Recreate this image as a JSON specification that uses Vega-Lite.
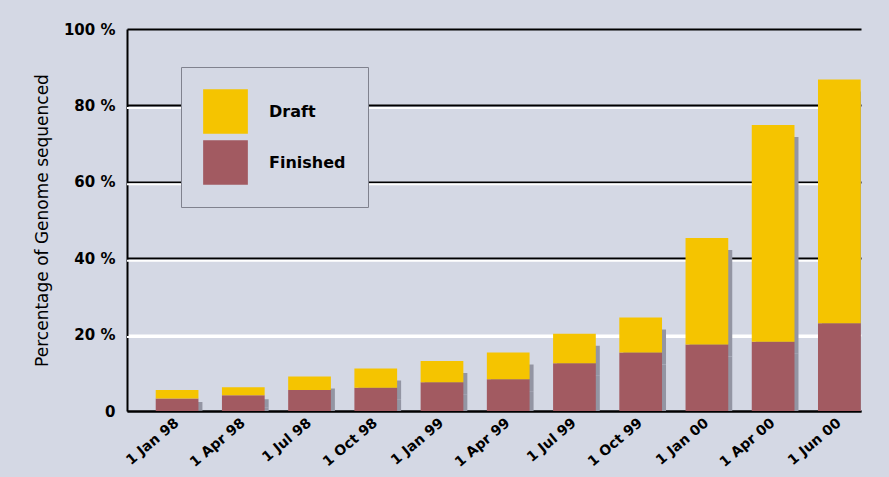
{
  "$schema": "https://vega.github.io/schema/vega-lite/v6.json",
  "width": 734,
  "height": 382,
  "autosize": "none",
  "padding": {"left": 127, "top": 29, "right": 28, "bottom": 66},
  "background": "#d4d8e4",
  "config": {
    "view": {"stroke": null},
    "font": "DejaVu Sans",
    "axisX": {"labelAngle": -40, "labelAlign": "right", "labelBaseline": "middle",
              "labelFontSize": 14, "labelFontWeight": "bold", "labelColor": "black", "ticks": false,
              "domainColor": "black", "domainWidth": 2, "labelPadding": 10, "grid": false},
    "axisY": {"titleFontSize": 17, "titleFontWeight": "normal", "titleColor": "black", "titlePadding": 12,
              "labelFontSize": 15, "labelFontWeight": "bold", "labelColor": "black", "labelPadding": 12,
              "ticks": false, "domainColor": "black", "domainWidth": 2,
              "grid": true, "gridWidth": 2, "gridOpacity": 1, "gridColor": "black"}
  },
  "datasets": {
    "grid": [{"level": 20}, {"level": 40}, {"level": 60}, {"level": 80}],
    "progress": [
      {"date": "1 Jan 98", "series": "Finished", "value": 3.3},
      {"date": "1 Jan 98", "series": "Draft", "value": 2.2},
      {"date": "1 Apr 98", "series": "Finished", "value": 4.1},
      {"date": "1 Apr 98", "series": "Draft", "value": 2.1},
      {"date": "1 Jul 98", "series": "Finished", "value": 5.5},
      {"date": "1 Jul 98", "series": "Draft", "value": 3.5},
      {"date": "1 Oct 98", "series": "Finished", "value": 6.1},
      {"date": "1 Oct 98", "series": "Draft", "value": 5.0},
      {"date": "1 Jan 99", "series": "Finished", "value": 7.5},
      {"date": "1 Jan 99", "series": "Draft", "value": 5.6},
      {"date": "1 Apr 99", "series": "Finished", "value": 8.3},
      {"date": "1 Apr 99", "series": "Draft", "value": 7.0},
      {"date": "1 Jul 99", "series": "Finished", "value": 12.5},
      {"date": "1 Jul 99", "series": "Draft", "value": 7.7},
      {"date": "1 Oct 99", "series": "Finished", "value": 15.3},
      {"date": "1 Oct 99", "series": "Draft", "value": 9.2},
      {"date": "1 Jan 00", "series": "Finished", "value": 17.4},
      {"date": "1 Jan 00", "series": "Draft", "value": 27.9},
      {"date": "1 Apr 00", "series": "Finished", "value": 18.1},
      {"date": "1 Apr 00", "series": "Draft", "value": 56.8},
      {"date": "1 Jun 00", "series": "Finished", "value": 23.0},
      {"date": "1 Jun 00", "series": "Draft", "value": 63.8}
    ]
  },
  "layer": [
    {
      "data": {"name": "grid"},
      "mark": {"type": "rule", "color": "white", "strokeWidth": 2, "yOffset": 2.5},
      "encoding": {
        "y": {"field": "level", "type": "quantitative", "scale": {"domain": [0, 100], "nice": false},
              "axis": {"title": "Percentage of Genome sequenced"}}
      }
    },
    {
      "data": {"name": "progress"},
      "mark": {"type": "bar", "color": "#9395a3", "xOffset": 4, "yOffset": 12, "clip": true},
      "encoding": {
        "x": {"field": "date", "type": "nominal", "sort": null, "axis": {"title": null},
              "scale": {"paddingInner": 0.355, "paddingOuter": 0.219, "align": 0.99}},
        "y": {"field": "value", "type": "quantitative", "stack": "zero",
              "axis": {"title": "Percentage of Genome sequenced"},
              "scale": {"domain": [0, 100], "nice": false}},
        "order": {"field": "series", "sort": "descending"}
      }
    },
    {
      "data": {"name": "progress"},
      "mark": {"type": "bar", "strokeWidth": 0},
      "encoding": {
        "x": {"field": "date", "type": "nominal", "sort": null,
              "scale": {"paddingInner": 0.355, "paddingOuter": 0.219, "align": 0.99},
              "axis": {"title": null}},
        "y": {"field": "value", "type": "quantitative", "stack": "zero",
              "scale": {"domain": [0, 100], "nice": false},
              "axis": {"values": [0, 20, 40, 60, 80, 100],
                       "labelExpr": "datum.value == 0 ? '0' : datum.value + ' %'",
                       "title": "Percentage of Genome sequenced",
                       "gridColor": {"condition": {"test": "datum.value == 20", "value": "white"}, "value": "black"}}},
        "color": {"field": "series", "type": "nominal",
                  "scale": {"domain": ["Draft", "Finished"], "range": ["#f5c400", "#a25a61"]},
                  "legend": {"orient": "none", "legendX": 54, "legendY": 38, "title": null,
                             "symbolType": "square", "symbolSize": 2000, "symbolStrokeWidth": 0,
                             "symbolOpacity": 1,
                             "labelFontSize": 16, "labelFontWeight": "bold", "labelColor": "black",
                             "labelOffset": 21, "rowPadding": 6, "padding": 22,
                             "strokeColor": "#80828e", "fillColor": "#d4d8e4"}},
        "order": {"field": "series", "sort": "descending"}
      }
    }
  ]
}
